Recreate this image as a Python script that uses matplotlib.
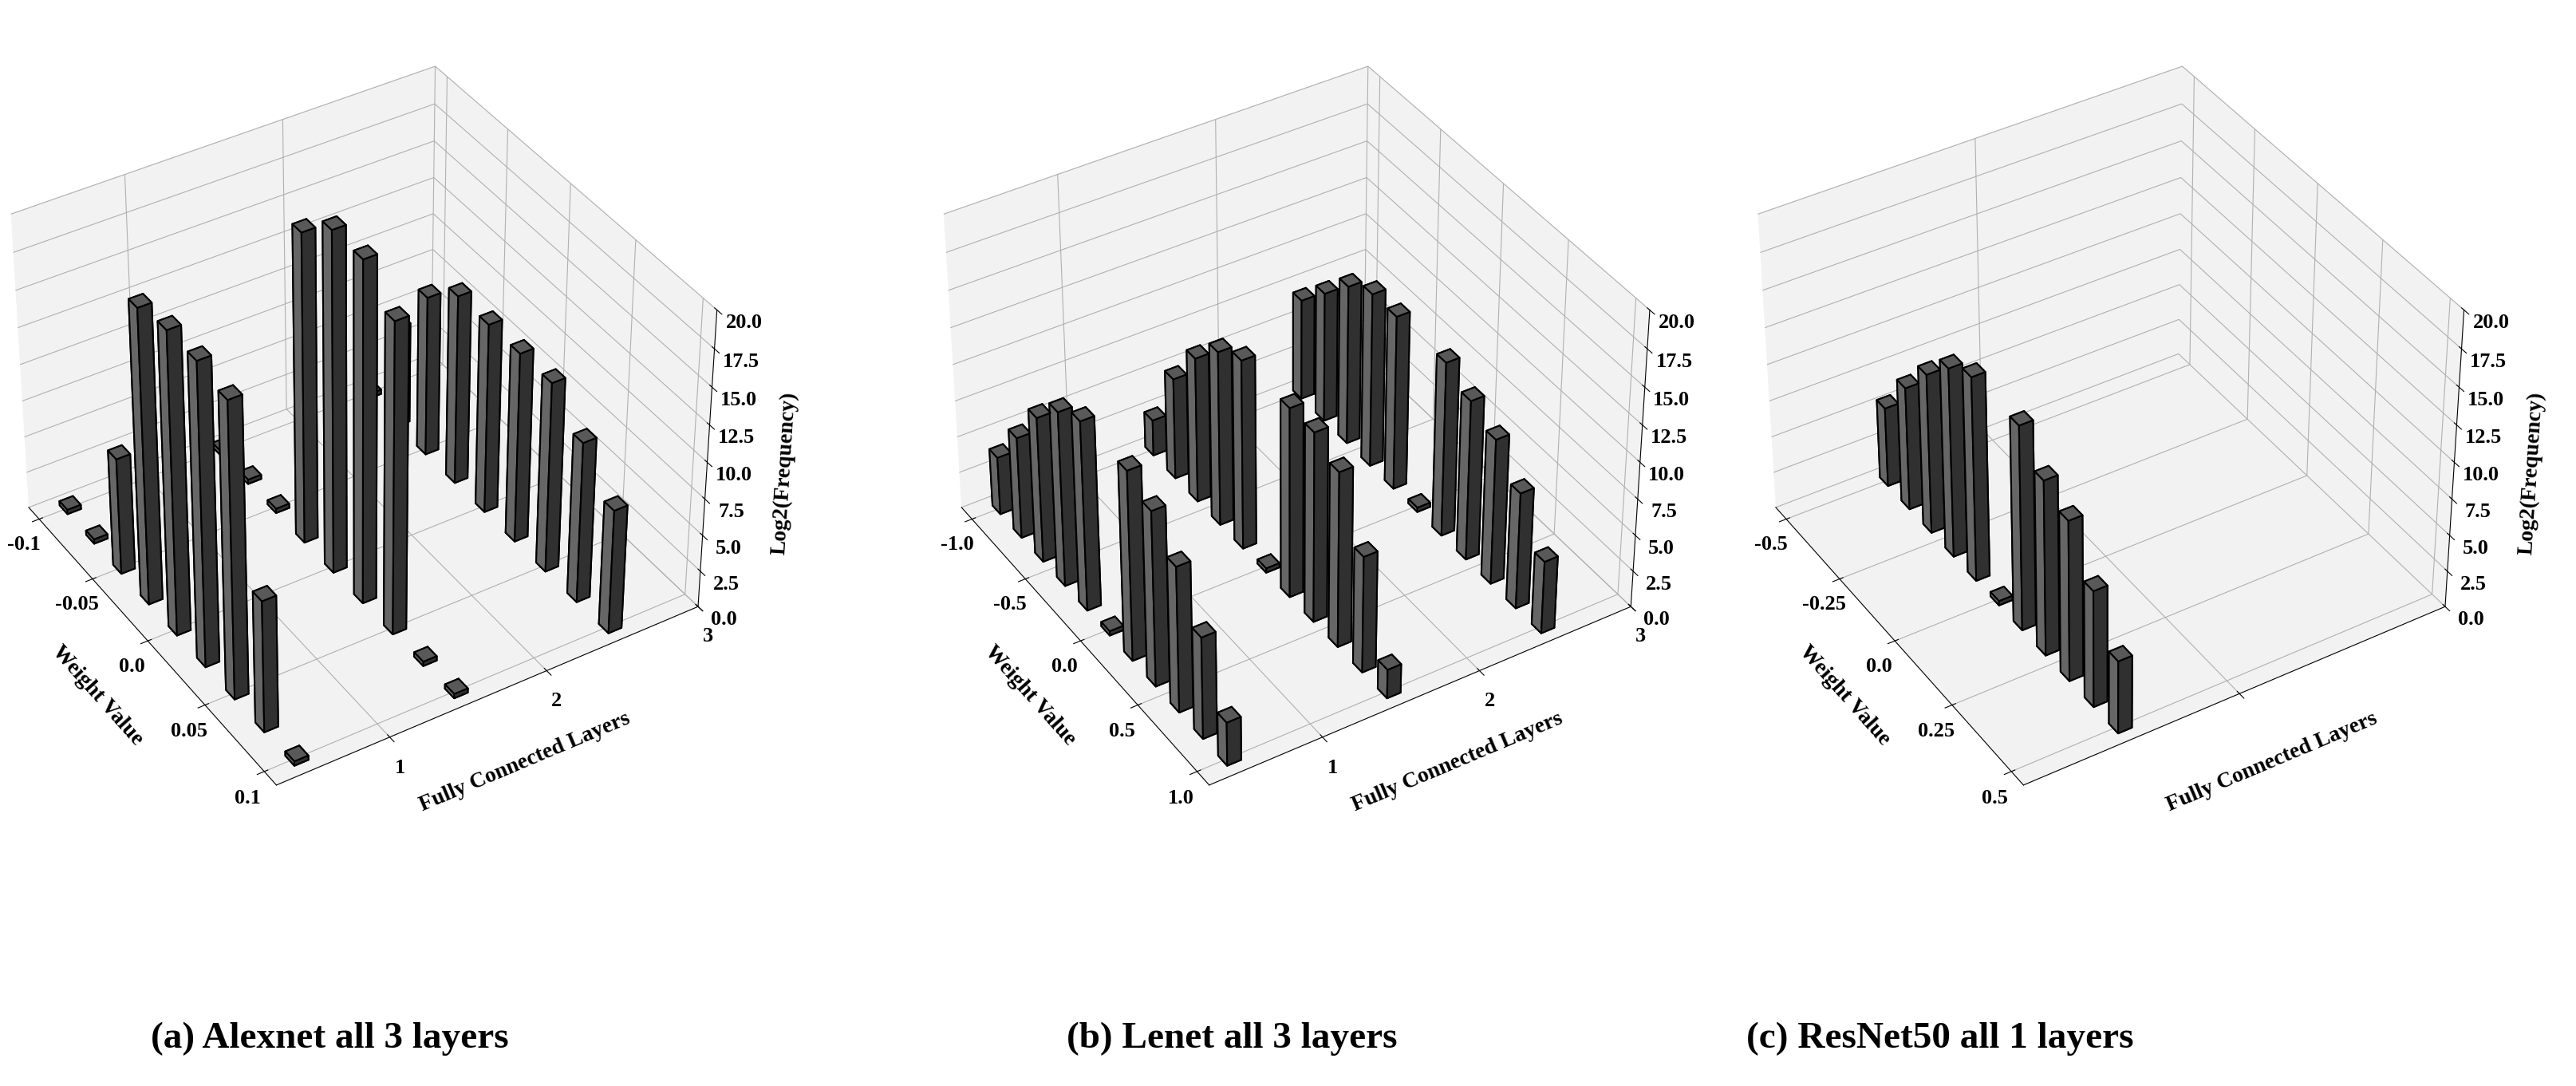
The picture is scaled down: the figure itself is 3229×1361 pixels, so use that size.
import numpy as np
import matplotlib
matplotlib.use("Agg")
import matplotlib.pyplot as plt

plt.rcParams['font.family'] = ['Liberation Serif', 'DejaVu Serif']
plt.rcParams['font.weight'] = 'bold'

# ---- data ----
alex_x = [-0.1, -0.075, -0.05, -0.025, 0.0, 0.025, 0.05, 0.075, 0.1]
alex_layers = [0.5, 1.5, 2.5]
alex_vals = [
    [0.3, 0.3, 8, 20, 20.5, 20.5, 20, 9, 0.3],
    [0.3, 0.3, 0.3, 21, 23, 23, 21, 0.3, 0.3],
    [0.3, 7, 11, 13, 13, 13, 13, 11, 8.5],
]
lenet_x = [-1.0, -0.8, -0.6, -0.4, -0.2, 0.0, 0.2, 0.4, 0.6, 0.8, 1.0]
lenet_layers = [0.5, 1.5, 2.5]
lenet_vals = [
    [4, 7, 10, 12, 13, 0.3, 13, 12, 10, 7, 3],
    [2.5, 7, 10, 12, 13, 0.3, 13, 13, 12, 8, 2],
    [7, 9, 11, 12, 12, 0.3, 12, 11, 10, 8, 5],
]
res_x = [-0.5, -0.4, -0.3, -0.2, -0.1, 0.0, 0.1, 0.2, 0.3, 0.4, 0.5]
res_layers = [0.5]
res_vals = [
    [5.5, 8.5, 11, 13, 14, 0.3, 14, 12, 11, 8, 5],
]
titles = ['(a) Alexnet all 3 layers', '(b) Lenet all 3 layers', '(c) ResNet50 all 1 layers']
panels = [
    (alex_x, alex_layers, alex_vals, [-0.1, -0.05, 0.0, 0.05, 0.1], ['-0.1', '-0.05', '0.0', '0.05', '0.1'], (-0.11, 0.11), (0.3, 3.0), [1, 2, 3], ['1', '2', '3']),
    (lenet_x, lenet_layers, lenet_vals, [-1.0, -0.5, 0.0, 0.5, 1.0], ['-1.0', '-0.5', '0.0', '0.5', '1.0'], (-1.1, 1.1), (0.3, 3.0), [1, 2, 3], ['1', '2', '3']),
    (res_x, res_layers, res_vals, [-0.5, -0.25, 0.0, 0.25, 0.5], ['-0.5', '-0.25', '0.0', '0.25', '0.5'], (-0.55, 0.55), (0.0, 2.0), [1], ['']),
]

fig = plt.figure(figsize=(32.3, 13.61), dpi=100)
lefts = [-0.02, 0.342, 0.658]
title_x = [0.128, 0.478, 0.753]
for i, (xs, layers, vals, xt, xtl, xl, yl, yt, ytl) in enumerate(panels):
    ax = fig.add_axes([lefts[i], 0.22, 0.31, 0.78], projection='3d')
    span = xl[1] - xl[0]
    dx = span * 0.034
    dy = (yl[1] - yl[0]) * 0.032
    for y, row in zip(layers, vals):
        xa = np.array(xs) - dx / 2
        ya = np.full(len(xs), y) - dy / 2
        ax.bar3d(xa, ya, np.zeros(len(xs)), dx, dy, np.array(row),
                 color='#747474', edgecolor='black', linewidth=1.5, shade=True)
    ax.set_xlim(*xl)
    ax.set_ylim(*yl)
    ax.set_zlim(0, 20)
    ax.set_xticks(xt)
    ax.set_xticklabels(xtl)
    ax.set_yticks(yt)
    ax.set_yticklabels(ytl)
    ax.set_zticks([0, 2.5, 5, 7.5, 10, 12.5, 15, 17.5, 20])
    ax.set_zticklabels(['0.0', '2.5', '5.0', '7.5', '10.0', '12.5', '15.0', '17.5', '20.0'])
    ax.tick_params(labelsize=19, pad=6)
    ax.set_xlabel('Weight Value', fontsize=20, fontweight='bold', labelpad=24)
    ax.set_ylabel('Fully Connected Layers', fontsize=20, fontweight='bold', labelpad=24)
    ax.set_zlabel('Log2(Frequency)', fontsize=20, fontweight='bold', labelpad=20)
    ax.view_init(elev=38, azim=-32)
    ax.set_box_aspect(None, zoom=0.97)
    for a in (ax.xaxis, ax.yaxis, ax.zaxis):
        a.set_pane_color((0.95, 0.95, 0.95, 1.0))
    fig.text(title_x[i], 0.035, titles[i], fontsize=34, fontweight='bold', ha='center')

fig.savefig('out.png', dpi=100)
